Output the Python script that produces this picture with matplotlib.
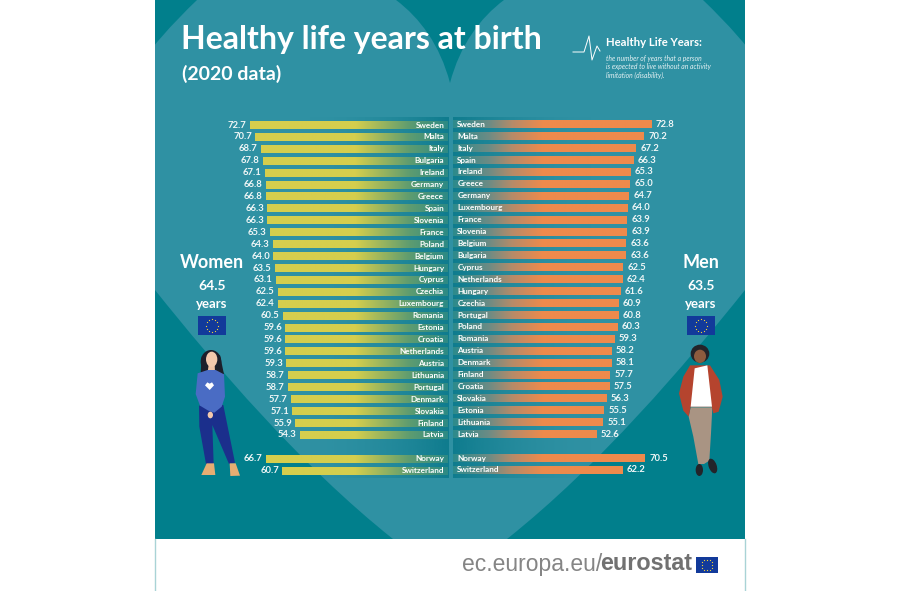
import numpy as np
import matplotlib
matplotlib.use("Agg")
import matplotlib.pyplot as plt
from matplotlib.patches import Rectangle, PathPatch, Polygon, Ellipse
from matplotlib.path import Path
from matplotlib.colors import to_rgb

women_countries = ["Sweden", "Malta", "Italy", "Bulgaria", "Ireland", "Germany", "Greece", "Spain",
                   "Slovenia", "France", "Poland", "Belgium", "Hungary", "Cyprus", "Czechia",
                   "Luxembourg", "Romania", "Estonia", "Croatia", "Netherlands", "Austria",
                   "Lithuania", "Portugal", "Denmark", "Slovakia", "Finland", "Latvia",
                   "Norway", "Switzerland"]
women_values = [72.7, 70.7, 68.7, 67.8, 67.1, 66.8, 66.8, 66.3, 66.3, 65.3, 64.3, 64.0, 63.5, 63.1,
                62.5, 62.4, 60.5, 59.6, 59.6, 59.6, 59.3, 58.7, 58.7, 57.7, 57.1, 55.9, 54.3,
                66.7, 60.7]
men_countries = ["Sweden", "Malta", "Italy", "Spain", "Ireland", "Greece", "Germany", "Luxembourg",
                 "France", "Slovenia", "Belgium", "Bulgaria", "Cyprus", "Netherlands", "Hungary",
                 "Czechia", "Portugal", "Poland", "Romania", "Austria", "Denmark", "Finland",
                 "Croatia", "Slovakia", "Estonia", "Lithuania", "Latvia", "Norway", "Switzerland"]
men_values = [72.8, 70.2, 67.2, 66.3, 65.3, 65.0, 64.7, 64.0, 63.9, 63.9, 63.6, 63.6, 62.5, 62.4,
              61.6, 60.9, 60.8, 60.3, 59.3, 58.2, 58.1, 57.7, 57.5, 56.3, 55.5, 55.1, 52.6,
              70.5, 62.2]
rows = list(range(27)) + [28, 29]

W, H = 900, 591
DARK = "#017f8c"
LIGHT = "#2f91a3"
BOLD = "Lato"

fig = plt.figure(figsize=(W / 100, H / 100), dpi=100, facecolor="white")
bg = fig.add_axes([0, 0, 1, 1])
bg.set_xlim(0, W)
bg.set_ylim(H, 0)
bg.axis("off")


def heart_path(flip=False):
    pts = [(450, 83), (440, 45), (420, 18), (396, 0),
           (340, -40), (250, -40), (197, 0),
           (150, 45), (95, 110), (95, 180),
           (110, 225), (130, 260), (155, 290),
           (215, 365), (300, 465), (393, 539),
           (450, 585), (450, 83)]
    codes = [Path.MOVETO] + [Path.CURVE4] * 15 + [Path.LINETO, Path.CLOSEPOLY]
    if flip:
        pts = [(900 - x, y) for x, y in pts]
    return Path(pts, codes)


panel = Rectangle((155, 0), 590, 539, fc=DARK, ec="none", zorder=1)
bg.add_patch(panel)
for flip in (False, True):
    p = PathPatch(heart_path(flip), fc=LIGHT, ec="none", zorder=2)
    bg.add_patch(p)
    p.set_clip_path(panel)
bg.plot([155, 155], [539, 591], color="#a9d3d6", lw=1, zorder=2)
bg.plot([745, 745], [539, 591], color="#a9d3d6", lw=1, zorder=2)

# darker panels behind the rows, fading away from the centre
fade = np.zeros((1, 256, 4))
fade[..., :3] = to_rgb("#0f7c8e")
fade[..., 3] = np.linspace(0, 1, 256) ** 2
bg.imshow(fade, extent=(300, 449, 478, 117), aspect="auto", zorder=3)
bg.imshow(fade[:, ::-1], extent=(453, 600, 478, 117), aspect="auto", zorder=3)
bg.set_xlim(0, W)
bg.set_ylim(H, 0)

# titles
bg.text(181, 40, "Healthy life years at birth", color="white", fontsize=23, family=BOLD,
        weight="bold", va="center", ha="left", zorder=5)
bg.text(182, 74, "(2020 data)", color="white", fontsize=14, family=BOLD,
        weight="bold", va="center", ha="left", zorder=5)
bg.plot([573, 584, 589, 592, 597, 600], [52, 52, 36, 60, 46, 51], color="white", lw=0.7, zorder=5)
bg.text(606, 43, "Healthy Life Years:", color="white", fontsize=8.2, family=BOLD,
        weight="bold", va="center", zorder=5)
for y, line in zip((58, 66, 75), ("the number of years that a person",
                                  "is expected to live without an activity",
                                  "limitation (disability).")):
    bg.text(606, y, line, color="#e4f1f3", fontsize=4.9, family=BOLD, style="italic",
            va="center", zorder=5)


def eu_flag(ax, x0, y0, w, h, z=5):
    ax.add_patch(Rectangle((x0, y0), w, h, fc="#123a9a", ec="none", zorder=z))
    a = np.arange(12) * np.pi / 6
    r = h * 0.33
    ax.scatter(x0 + w / 2 + r * np.cos(a), y0 + h / 2 + r * np.sin(a), s=0.8,
               color="#f2d33a", linewidths=0, zorder=z + 1)


# side captions
for cx, name, val in ((212, "Women", "64.5"), (701, "Men", "63.5")):
    bg.text(cx, 262, name, color="white", fontsize=13, family=BOLD, weight="bold",
            ha="center", va="center", zorder=5)
    bg.text(cx, 286, val, color="white", fontsize=10, family=BOLD, weight="bold",
            ha="center", va="center", zorder=5)
    bg.text(cx, 304, "years", color="white", fontsize=9.5, family=BOLD, weight="bold",
            ha="center", va="center", zorder=5)
    eu_flag(bg, cx - 14, 316, 28, 19)


def shape(pts, color, x0, y0, z=6):
    bg.add_patch(Polygon([(x0 + x / 3, y0 + y / 3) for x, y in pts], fc=color, ec="none", zorder=z))


def blob(cx, cy, w, h, color, x0, y0, z=6, angle=0):
    bg.add_patch(Ellipse((x0 + cx / 3, y0 + cy / 3), w / 3, h / 3, angle=angle, fc=color, ec="none", zorder=z))


# woman
x0, y0 = 155, 240
blob(168, 365, 62, 70, "#1c1f2b", x0, y0)
shape([(140, 350), (195, 345), (207, 403), (137, 398)], "#1c1f2b", x0, y0)
shape([(161, 375), (179, 375), (180, 395), (158, 395)], "#efc3a6", x0, y0, 7)
blob(170, 358, 34, 46, "#f3c9ad", x0, y0, 7)
shape([(132, 497), (205, 495), (212, 530), (240, 668), (222, 672), (172, 555), (176, 672), (153, 672), (133, 560)],
      "#1b2f8c", x0, y0)
shape([(128, 400), (158, 390), (182, 390), (207, 403), (210, 470), (200, 500), (178, 518), (160, 512),
       (135, 497), (122, 462)], "#4a6cc4", x0, y0, 7)
blob(166, 525, 16, 20, "#f3c9ad", x0, y0, 8)
shape([(150, 436), (157, 427), (164, 431), (171, 427), (177, 436), (164, 450)], "white", x0, y0, 8)
shape([(155, 670), (177, 670), (181, 705), (139, 705)], "#e6ad72", x0, y0)
shape([(224, 670), (242, 670), (255, 707), (226, 708)], "#e6ad72", x0, y0)

# man
x0, y0 = 600, 240
blob(300, 341, 56, 54, "#23242a", x0, y0)
blob(300, 349, 36, 40, "#8d5b3e", x0, y0, 7)
shape([(272, 502), (337, 502), (333, 580), (328, 662), (312, 672), (295, 672), (280, 590), (266, 530)],
      "#a99483", x0, y0)
shape([(270, 376), (330, 376), (358, 420), (368, 470), (356, 515), (340, 520), (335, 500), (272, 500),
       (266, 530), (250, 512), (237, 460), (250, 410)], "#b5442e", x0, y0, 7)
shape([(284, 385), (322, 376), (336, 500), (272, 500)], "white", x0, y0, 8)
blob(298, 690, 22, 36, "#23242a", x0, y0)
blob(338, 678, 24, 46, "#23242a", x0, y0, angle=-20)

# footer
bg.text(462, 564, "ec.europa.eu/", color="#858585", fontsize=16.5, family="Liberation Sans",
        ha="left", va="center", zorder=5)
bg.text(600, 564, "eurostat", color="#717171", fontsize=16.8, family="Liberation Sans", weight="bold",
        ha="left", va="center", zorder=5)
eu_flag(bg, 696, 557, 22, 16)


def chart_axes(zero_px, px_per_year, first_row_px, pitch, invert):
    width = 80 * px_per_year
    left = zero_px - width if invert else zero_px
    top = first_row_px - pitch
    height = 31 * pitch
    ax = fig.add_axes([left / W, 1 - (top + height) / H, width / W, height / H], zorder=4)
    ax.patch.set_alpha(0)
    ax.axis("off")
    return ax


def gradient_bars(ax, y, values, stops, colours):
    rgb = np.array([to_rgb(c) for c in colours])
    bars = ax.barh(y, values, height=0.66, color="none", edgecolor="none")
    for bar, v in zip(bars, values):
        t = np.linspace(0, v, 200)
        col = np.zeros((1, 200, 3))
        for k in range(3):
            col[0, :, k] = np.interp(t, stops, rgb[:, k])
        ax.imshow(col, extent=(0, v, bar.get_y() + bar.get_height(), bar.get_y()), aspect="auto", zorder=2)


ax_w = chart_axes(447.5, 2.72, 125, 11.92, True)
gradient_bars(ax_w, rows, women_values, [0, 14, 34], ["#2d8a85", "#5e9c70", "#d5ce4d"])
for y, c, v in zip(rows, women_countries, women_values):
    ax_w.text(1.2, y, c, color="white", fontsize=5.9, family=BOLD, weight="bold", ha="right", va="center", zorder=3)
    ax_w.text(v + 1.2, y, f"{v:.1f}", color="#eef6f6", fontsize=6.8, family=BOLD, weight="bold",
              ha="right", va="center", zorder=3)
ax_w.set_xlim(80, 0)
ax_w.set_ylim(30, -1)

ax_m = chart_axes(453, 2.72, 124.3, 11.92, False)
gradient_bars(ax_m, rows, men_values, [0, 13, 22, 33], ["#2d8a8c", "#6c8c85", "#b88b68", "#ee8a4c"])
for y, c, v in zip(rows, men_countries, men_values):
    ax_m.text(1.6, y, c, color="white", fontsize=5.9, family=BOLD, weight="bold", ha="left", va="center", zorder=3)
    ax_m.text(v + 1.6, y, f"{v:.1f}", color="#eef6f6", fontsize=6.8, family=BOLD, weight="bold",
              ha="left", va="center", zorder=3)
ax_m.set_xlim(0, 80)
ax_m.set_ylim(30, -1)

fig.savefig("out.png", dpi=100)
